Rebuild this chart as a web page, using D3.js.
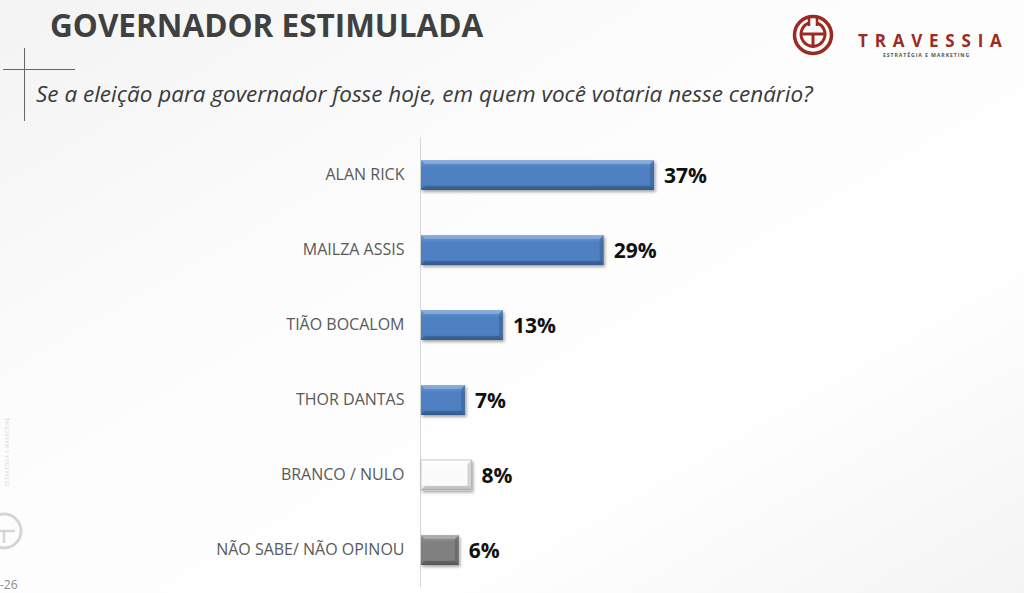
<!DOCTYPE html>
<html>
<head>
<meta charset="utf-8">
<script src="https://cdn.jsdelivr.net/npm/d3@7"></script>
<style>
  html, body { margin: 0; padding: 0; background: #fff; }
  svg { display: block; }
</style>
</head>
<body>
<div id="chart"></div>
<script>
// --- data ---
const categories = ["ALAN RICK", "MAILZA ASSIS", "TIÃO BOCALOM", "THOR DANTAS", "BRANCO / NULO", "NÃO SABE/ NÃO OPINOU"];
const values = [37, 29, 13, 7, 8, 6];
const valueLabels = ["37%", "29%", "13%", "7%", "8%", "6%"];
const titleText = "GOVERNADOR ESTIMULADA";
const subtitleText = "Se a eleição para governador fosse hoje, em quem você votaria nesse cenário?";

(function () {
    const W = 1024, H = 593;
    const svg = d3.select("#chart").append("svg")
        .attr("width", W).attr("height", H)
        .attr("viewBox", `0 0 ${W} ${H}`);

    const defs = svg.append("defs");

    // background wash
    const bg = defs.append("linearGradient").attr("id", "bg")
        .attr("x1", 0).attr("y1", 0).attr("x2", 1).attr("y2", 1);
    bg.append("stop").attr("offset", "0%").attr("stop-color", "#f3f3f3");
    bg.append("stop").attr("offset", "35%").attr("stop-color", "#fcfcfc");
    bg.append("stop").attr("offset", "70%").attr("stop-color", "#ffffff");
    bg.append("stop").attr("offset", "100%").attr("stop-color", "#f4f4f4");
    svg.append("rect").attr("width", W).attr("height", H).attr("fill", "url(#bg)");

    // bar gradients (blue / white / gray)
    const palettes = {
        blue: ["#6c9ad6", "#4f81c2", "#3f6fae"],
        white: ["#ffffff", "#fbfbfb", "#e6e6e6"],
        gray: ["#9a9a9a", "#808080", "#6a6a6a"]
    };
    Object.entries(palettes).forEach(([k, c]) => {
        const g = defs.append("linearGradient").attr("id", "g-" + k)
            .attr("x1", 0).attr("y1", 0).attr("x2", 0).attr("y2", 1);
        g.append("stop").attr("offset", "0%").attr("stop-color", c[0]);
        g.append("stop").attr("offset", "25%").attr("stop-color", c[1]);
        g.append("stop").attr("offset", "80%").attr("stop-color", c[1]);
        g.append("stop").attr("offset", "100%").attr("stop-color", c[2]);
    });
    const shadow = defs.append("filter").attr("id", "shadow")
        .attr("x", "-10%").attr("y", "-20%").attr("width", "130%").attr("height", "160%");
    shadow.append("feDropShadow").attr("dx", 1.5).attr("dy", 2)
        .attr("stdDeviation", 1.5).attr("flood-color", "#000").attr("flood-opacity", 0.35);

    const kindOf = d => d === "BRANCO / NULO" ? "white" : (d === "NÃO SABE/ NÃO OPINOU" ? "gray" : "blue");

    // --- header ---
    svg.append("text")
        .attr("x", 50).attr("y", 37)
        .attr("font-family", "'Open Sans', sans-serif")
        .attr("font-weight", 700).attr("font-size", 31.5)
        .attr("fill", "#404040")
        .text(titleText);

    // crosshair mark
    const mark = svg.append("g").attr("stroke", "#666").attr("stroke-width", 1);
    mark.append("line").attr("x1", 3).attr("x2", 75).attr("y1", 69.5).attr("y2", 69.5);
    mark.append("line").attr("x1", 24.5).attr("x2", 24.5).attr("y1", 48).attr("y2", 121);

    svg.append("text")
        .attr("x", 36).attr("y", 102)
        .attr("font-family", "'Open Sans', sans-serif")
        .attr("font-style", "italic").attr("font-size", 22.5)
        .attr("fill", "#3a3a3a")
        .text(subtitleText);

    // logo
    const red = "#9c2a22";
    const logo = svg.append("g").attr("transform", "translate(813,35)")
        .attr("fill", "none").attr("stroke", red);
    logo.append("circle").attr("r", 18.5).attr("stroke-width", 3.5);
    logo.append("path").attr("d", "M-4,-12 A12,12 0 1 0 4,-12").attr("stroke-width", 3);
    logo.append("line").attr("x1", -12).attr("x2", 12).attr("y1", -1).attr("y2", -1).attr("stroke-width", 3);
    logo.append("line").attr("x1", 0).attr("x2", 0).attr("y1", -1).attr("y2", 13).attr("stroke-width", 3);
    logo.append("line").attr("x1", -4).attr("x2", -4).attr("y1", -19).attr("y2", -9).attr("stroke-width", 2.5);
    logo.append("line").attr("x1", 4).attr("x2", 4).attr("y1", -19).attr("y2", -9).attr("stroke-width", 2.5);
    svg.append("text")
        .attr("x", 858).attr("y", 47)
        .attr("font-family", "'Open Sans', sans-serif")
        .attr("font-weight", 700).attr("font-size", 17)
        .attr("letter-spacing", 6.8)
        .attr("fill", red)
        .text("TRAVESSIA");
    svg.append("text")
        .attr("x", 883).attr("y", 56.5)
        .attr("font-family", "'Open Sans', sans-serif")
        .attr("font-weight", 700).attr("font-size", 5.2)
        .attr("letter-spacing", 0.9)
        .attr("fill", "#555")
        .text("ESTRATÉGIA E MARKETING");

    // faint footer decorations
    const fl = svg.append("g").attr("transform", "translate(4,531)")
        .attr("fill", "none").attr("stroke", "#d5d5d5");
    fl.append("circle").attr("r", 17).attr("stroke-width", 3);
    fl.append("line").attr("x1", -11).attr("x2", 11).attr("y1", 0).attr("y2", 0).attr("stroke-width", 2.5);
    fl.append("line").attr("x1", 0).attr("x2", 0).attr("y1", 0).attr("y2", 12).attr("stroke-width", 2.5);
    svg.append("text")
        .attr("transform", "translate(9,486) rotate(-90)")
        .attr("font-family", "'Open Sans', sans-serif")
        .attr("font-size", 4.5).attr("letter-spacing", 0.6)
        .attr("fill", "#d0d0d0")
        .text("ESTRATÉGIA E MARKETING");
    svg.append("text")
        .attr("x", 0).attr("y", 589)
        .attr("font-family", "'Open Sans', sans-serif")
        .attr("font-size", 12).attr("fill", "#8a8a8a")
        .text("-26");

    // --- chart ---
    const x0 = 421;
    const x = d3.scaleLinear().domain([0, 40]).range([x0, x0 + 252]);
    const y = d3.scaleBand().domain(categories)
        .range([137.5, 587.5]).paddingInner(0.6).paddingOuter(0.3);

    // category axis (line + labels)
    const yAxis = svg.append("g")
        .attr("transform", `translate(${x0 - 0.5},0)`)
        .call(d3.axisLeft(y).tickSize(0).tickPadding(16));
    yAxis.select(".domain").attr("stroke", "#d6d6d6").attr("d", "M0,137V587");
    yAxis.selectAll(".tick text")
        .attr("font-family", "'Open Sans', sans-serif")
        .attr("font-size", 16)
        .attr("fill", "#595959");

    const bars = svg.append("g").selectAll("g.bar")
        .data(categories.map((c, i) => ({ c, v: values[i], label: valueLabels[i] })))
        .join("g").attr("class", "bar");

    bars.append("rect")
        .attr("x", x0)
        .attr("y", d => y(d.c))
        .attr("width", d => x(d.v) - x0)
        .attr("height", y.bandwidth())
        .attr("fill", d => `url(#g-${kindOf(d.c)})`)
        .attr("stroke", d => kindOf(d.c) === "white" ? "#bdbdbd" : "none")
        .attr("stroke-width", 0.8)
        .attr("filter", "url(#shadow)");

    // bevel highlights
    const e = 4;
    bars.append("path")
        .attr("d", d => {
            const x1 = x0, x2 = x(d.v), t = y(d.c);
            return `M${x1},${t}L${x2},${t}L${x2 - e},${t + e}L${x1 + e},${t + e}Z`;
        })
        .attr("fill", "#fff").attr("fill-opacity", d => kindOf(d.c) === "white" ? 0 : 0.22);
    bars.append("path")
        .attr("d", d => {
            const x2 = x(d.v), t = y(d.c), b = t + y.bandwidth();
            return `M${x2},${t}L${x2},${b}L${x2 - e},${b - e}L${x2 - e},${t + e}Z`;
        })
        .attr("fill", "#000").attr("fill-opacity", 0.15);
    bars.append("path")
        .attr("d", d => {
            const x1 = x0, x2 = x(d.v), t = y(d.c), b = t + y.bandwidth();
            return `M${x1},${b}L${x2},${b}L${x2 - e},${b - e}L${x1 + e},${b - e}Z`;
        })
        .attr("fill", "#000").attr("fill-opacity", 0.18);

    bars.append("text")
        .attr("x", d => x(d.v) + 10)
        .attr("y", d => y(d.c) + y.bandwidth() / 2)
        .attr("dy", "0.36em")
        .attr("font-family", "'Open Sans', sans-serif")
        .attr("font-weight", 700).attr("font-size", 21)
        .attr("fill", "#111")
        .text(d => d.label);
})();
</script>
</body>
</html>
